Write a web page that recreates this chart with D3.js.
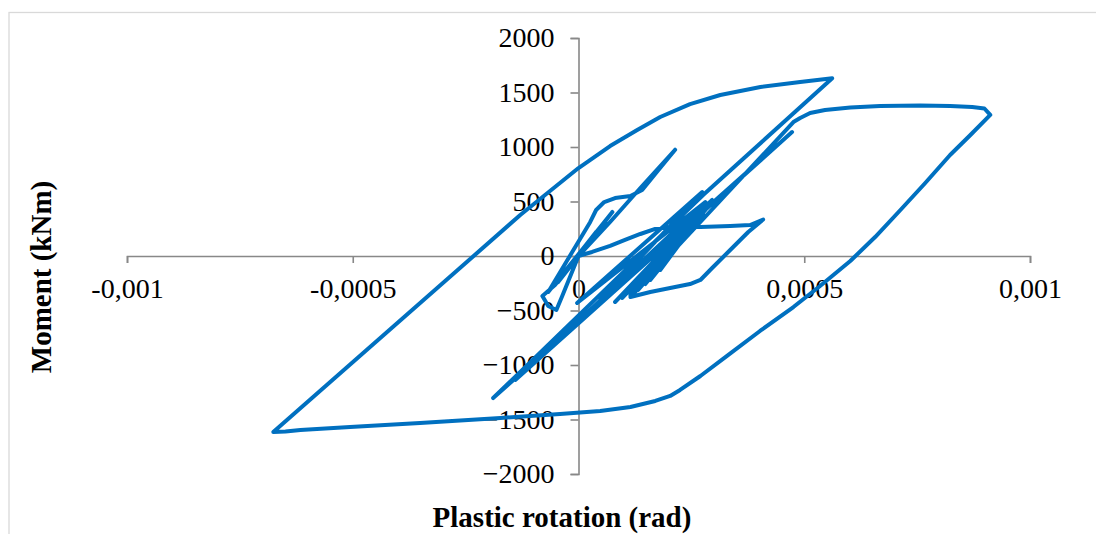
<!DOCTYPE html>
<html>
<head>
<meta charset="utf-8">
<script src="https://cdn.jsdelivr.net/npm/d3@7"></script>
<style>
  html, body { margin: 0; padding: 0; background: #ffffff; }
  svg { display: block; }
  text { font-family: "Liberation Serif", "Times New Roman", serif; fill: #000; }
</style>
</head>
<body>
<div id="chart"></div>
<script>
// Moment – plastic rotation hysteresis of the hinge (single continuous path)
const rotation = [
  // early small cycles and first excursion to ~970 kNm
  0, 0.000039, -0.000027, 0.000059, -0.000045, 0.000075, -0.000067,
  0.000026, 0.000039, 0.000057, 0.000081, 0.000115, 0.000141, 0.000177, 0.000214,
  0.000137, 0.000070, 0, -0.000052, -0.000080, -0.000067, -0.000049, -0.000036, 0,
  // cycle with the ~330 kNm tip
  0.000030, 0.000070, 0.000103, 0.000137, 0.000170, 0.000203, 0.000270, 0.000336,
  0.000380, 0.000409, 0.000376, 0.000336, 0.000296, 0.000270, 0.000247, 0.000203,
  0.000159, 0.000115,
  // reloading and yield plateau up to 0.00091 rad
  0.000270, 0.000321, 0.000398, 0.000476, 0.000491, 0.000513, 0.000546, 0.000602,
  0.000668, 0.000757, 0.000823, 0.000872, 0.000899, 0.000912,
  // unloading and negative yield down to -0.00068 rad
  0.000868, 0.000823, 0.000768, 0.000713, 0.000657, 0.000602, 0.000535, 0.000476,
  0.000402, 0.000329, 0.000270, 0.000225, 0.000203, 0.000170, 0.000115, 0.000048,
  -0.000041, -0.000173, -0.000351, -0.000506, -0.000616, -0.000649, -0.000676,
  // reloading to the largest positive moment
  -0.000129, 0, 0.000070, 0.000130, 0.000181, 0.000247, 0.000314, 0.000403,
  0.000491, 0.000562,
  // unloading to -1300 kNm and later cycles
  0.000276, -0.000189, 0.000473, -0.000140,
  0.000281, -0.000003, 0.000274, 0.000048, 0.000296, 0.000081, 0.000287, 0.000097,
  0.000281, 0.000115, 0.000276, 0.000132, 0.000270, 0.000148, 0.000259, 0.000159,
  0.000247, 0.000181, 0.000230
];
const moment = [
  0, 220, -128, 312, -239, 404, -330,
  312, 422, 495, 532, 550, 605, 789, 975,
  624, 312, 0, -266, -367, -459, -495, -367, 0,
  37, 92, 147, 202, 248, 266, 266, 275,
  284, 335, 220, 55, -110, -220, -257, -294,
  -330, -376,
  312, 541, 881, 1229, 1266, 1312, 1339, 1362,
  1376, 1381, 1376, 1367, 1353, 1294,
  1110, 927, 670, 422, 174, -46, -275, -468,
  -688, -917, -1101, -1229, -1284, -1330, -1385, -1422,
  -1449, -1486, -1532, -1569, -1596, -1610, -1615,
  376, 807, 1009, 1156, 1275, 1394, 1477, 1550,
  1596, 1630,
  560, -1303, 1137, -1137,
  495, -431, 587, -404, 514, -422, 477, -385,
  422, -358, 385, -312, 349, -257, 294, -220,
  239, -128, 147
];

const xTicks = [-0.001, -0.0005, 0, 0.0005, 0.001];
const xTickLabels = ["-0,001", "-0,0005", "0", "0,0005", "0,001"];
const yTicks = [-2000, -1500, -1000, -500, 0, 500, 1000, 1500, 2000];

const W = 1096, H = 534;
const svg = d3.select("#chart").append("svg")
  .attr("width", W).attr("height", H);

// outer chart frame
svg.append("rect")
  .attr("x", 9).attr("y", 12.5)
  .attr("width", 1200).attr("height", 700)
  .attr("fill", "none")
  .attr("stroke", "#d9d9d9")
  .attr("stroke-width", 1.3);

const x = d3.scaleLinear().domain([-0.001, 0.001]).range([127, 1030]);
const y = d3.scaleLinear().domain([-2000, 2000]).range([474, 38]);

const axisColor = "#888888";

// horizontal axis through M = 0
const xAxis = svg.append("g")
  .attr("transform", `translate(0,${y(0)})`)
  .call(d3.axisBottom(x)
    .tickValues(xTicks)
    .tickFormat((d, i) => xTickLabels[i])
    .tickSize(7)
    .tickPadding(15));
xAxis.select(".domain").attr("stroke", axisColor).attr("stroke-width", 1.6);
xAxis.selectAll(".tick line").attr("stroke", axisColor).attr("stroke-width", 1.6);
xAxis.selectAll(".tick text")
  .attr("font-size", 28)
  .attr("font-family", "Liberation Serif, serif")
  .attr("fill", "#000");

// vertical axis through rotation = 0
const yAxis = svg.append("g")
  .attr("transform", `translate(${x(0)},0)`)
  .call(d3.axisLeft(y)
    .tickValues(yTicks)
    .tickFormat(d3.format("d"))
    .tickSize(8)
    .tickPadding(16));
yAxis.select(".domain").attr("stroke", axisColor).attr("stroke-width", 1.6);
yAxis.selectAll(".tick line").attr("stroke", axisColor).attr("stroke-width", 1.6);
yAxis.selectAll(".tick text")
  .attr("font-size", 28)
  .attr("font-family", "Liberation Serif, serif")
  .attr("fill", "#000");

// hysteresis curve
const pts = rotation.map((r, i) => [r, moment[i]]);
const line = d3.line()
  .x(d => x(d[0]))
  .y(d => y(d[1]))
  .curve(d3.curveLinear);

svg.append("path")
  .datum(pts)
  .attr("d", line)
  .attr("fill", "none")
  .attr("stroke", "#0070C0")
  .attr("stroke-width", 4)
  .attr("stroke-linejoin", "round")
  .attr("stroke-linecap", "round");

// axis titles
svg.append("text")
  .attr("x", 562).attr("y", 527)
  .attr("text-anchor", "middle")
  .attr("font-size", 29)
  .attr("font-weight", "bold")
  .text("Plastic rotation (rad)");

svg.append("text")
  .attr("transform", "translate(51,277) rotate(-90)")
  .attr("text-anchor", "middle")
  .attr("font-size", 29)
  .attr("font-weight", "bold")
  .text("Moment (kNm)");
</script>
</body>
</html>
